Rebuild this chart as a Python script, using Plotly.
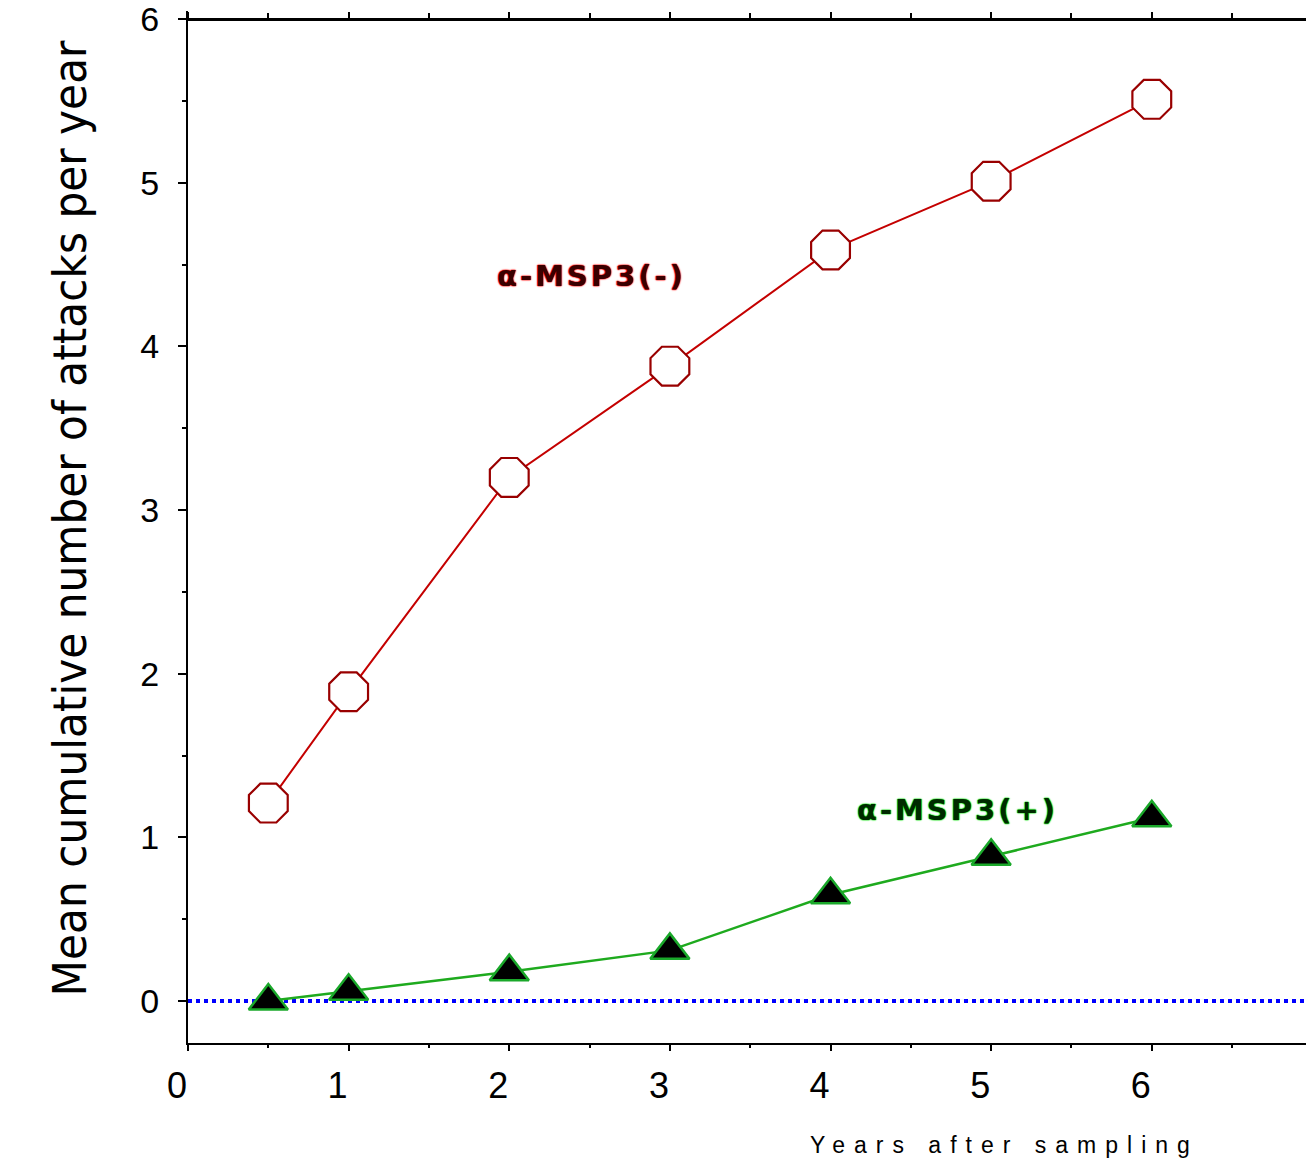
import plotly.graph_objects as go

years_neg = [0.5, 1, 2, 3, 4, 5, 6]
attacks_neg = [1.21, 1.89, 3.20, 3.88, 4.59, 5.01, 5.51]
years_pos = [0.5, 1, 2, 3, 4, 5, 6]
attacks_pos = [0.0, 0.06, 0.18, 0.31, 0.65, 0.885, 1.12]
x_ticks = [0, 1, 2, 3, 4, 5, 6]
y_ticks = [0, 1, 2, 3, 4, 5, 6]
label_neg = "α-MSP3(-)"
label_pos = "α-MSP3(+)"

y_min, y_max_axis, y_top = -0.256, 6.0, 6.05
x_range = [0, 6.96]

fig = go.Figure()

fig.add_shape(type="line", xref="x", yref="y", x0=0, x1=x_range[1], y0=0, y1=0,
              line=dict(color="#0000ff", width=4, dash="dot"), layer="below")

fig.add_trace(go.Scatter(
    x=years_neg, y=attacks_neg, mode="lines+markers",
    line=dict(color="#c40000", width=2),
    marker=dict(symbol="octagon", size=42, color="white",
                line=dict(color="#990000", width=2.2)),
    showlegend=False))

fig.add_trace(go.Scatter(
    x=years_pos, y=attacks_pos, mode="lines+markers",
    line=dict(color="#1eaa1e", width=2.5),
    marker=dict(symbol="triangle-up", size=34, color="black",
                line=dict(color="#1aa82a", width=2.5)),
    showlegend=False))

# invisible trace to host the top axis
fig.add_trace(go.Scatter(x=[x_range[0]], y=[0], xaxis="x2", mode="markers",
                         marker=dict(opacity=0), showlegend=False, hoverinfo="skip"))

fig.add_annotation(x=2.515, y=4.43, xref="x", yref="y", showarrow=False,
                   text="<span style='letter-spacing:3px'>" + label_neg + "</span>",
                   font=dict(family="DejaVu Sans", size=29, color="#3a0000", weight="bold",
                             shadow="0px 0px 1.5px #ff0000, 0px 0px 1.5px #ff0000, 0px 0px 1px #ff0000"))
fig.add_annotation(x=4.79, y=1.165, xref="x", yref="y", showarrow=False,
                   text="<span style='letter-spacing:3px'>" + label_pos + "</span>",
                   font=dict(family="DejaVu Sans", size=29, color="#002a00", weight="bold",
                             shadow="0px 0px 1.5px #00dd00, 0px 0px 1.5px #00dd00, 0px 0px 1px #00dd00"))

fig.add_annotation(x=(40 - 188) / 1118, y=(1043 - 517) / 1034, xref="paper", yref="paper",
                   showarrow=False, textangle=-90,
                   text="Mean cumulative number of attacks per year",
                   font=dict(family="Liberation Sans Narrow, DejaVu Sans Condensed, Liberation Sans",
                             size=47, color="black"))
fig.add_annotation(x=(808 - 188) / 1118, y=(1043 - 1160) / 1034, xref="paper", yref="paper",
                   showarrow=False, xanchor="left",
                   text="<span style='letter-spacing:9px'>Years after sampling</span>",
                   font=dict(family="Liberation Sans, Arial", size=23, color="black"))

top_pos = (y_max_axis - y_min) / (y_top - y_min)

fig.update_layout(
    width=1306, height=1167,
    margin=dict(l=188, r=0, t=9, b=124),
    paper_bgcolor="white", plot_bgcolor="white",
    font=dict(family="Liberation Sans, Arial", color="black"),
    xaxis=dict(range=x_range, tickvals=x_ticks, ticks="outside", ticklen=6, tickwidth=2,
               tickcolor="black", showline=True, linecolor="black", linewidth=2,
               showgrid=False, zeroline=False, ticklabeloverflow="allow",
               tickfont=dict(size=36), ticklabelshift=-11, ticklabelstandoff=4,
               minor=dict(dtick=0.5, tick0=0, ticks="outside", ticklen=3, tickwidth=2,
                          tickcolor="black", showgrid=False)),
    xaxis2=dict(range=x_range, overlaying="x", side="top", anchor="free", position=top_pos,
                tickvals=x_ticks, ticks="outside", ticklen=6, tickwidth=2, tickcolor="black",
                showticklabels=False, showline=True, linecolor="black", linewidth=3,
                showgrid=False, zeroline=False,
                minor=dict(dtick=0.5, tick0=0, ticks="outside", ticklen=5, tickwidth=2,
                           tickcolor="black", showgrid=False)),
    yaxis=dict(range=[y_min, y_top], tickvals=y_ticks, ticks="outside", ticklen=8, tickwidth=2,
               tickcolor="black", showline=True, linecolor="black", linewidth=2,
               showgrid=False, zeroline=False, ticklabeloverflow="allow",
               tickfont=dict(size=34), ticklabelstandoff=12,
               minor=dict(dtick=0.5, tick0=0, ticks="outside", ticklen=4, tickwidth=2,
                          tickcolor="black", showgrid=False)),
)

fig.write_html("out.html")
